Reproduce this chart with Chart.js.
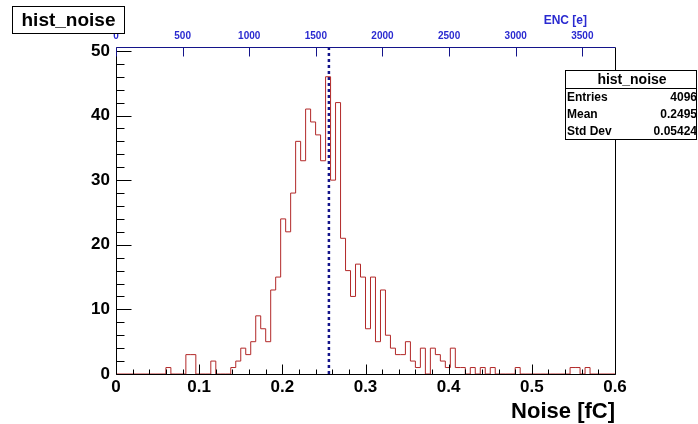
<!DOCTYPE html>
<html>
<head>
<meta charset="utf-8">
<script src="https://cdn.jsdelivr.net/npm/chart.js@4.4.1/dist/chart.umd.min.js"></script>
<style>
  html, body { margin: 0; padding: 0; background: #ffffff; }
  #c { display: block; }
</style>
</head>
<body>
<canvas id="c" width="698" height="424"></canvas>
<script>
// ---------------- data ----------------
const histName = 'hist_noise';
const BIN_LOW = 0.0;
const BIN_WIDTH = 0.006;               // 100 bins from 0 to 0.6 fC
const binCounts = [
  0, 0, 0, 0, 0, 0, 0, 0, 0, 0,        // 0.000 - 0.060
  1, 0, 0, 0, 3, 3, 0, 0, 0, 2,        // 0.060 - 0.120
  0, 0, 0, 1, 2, 4, 3, 5, 9, 7,        // 0.120 - 0.180
  5, 13, 15, 24, 22, 28, 36, 33, 41, 39, // 0.180 - 0.240
  37, 33, 46, 30, 42, 21, 16, 12, 17, 15, // 0.240 - 0.300
  7, 15, 5, 13, 6, 4, 3, 3, 5, 2,      // 0.300 - 0.360
  1, 4, 0, 4, 3, 2, 1, 4, 1, 1,        // 0.360 - 0.420
  0, 1, 0, 1, 0, 1, 0, 0, 0, 0,        // 0.420 - 0.480
  1, 0, 0, 0, 0, 0, 0, 0, 0, 0,        // 0.480 - 0.540
  0, 1, 1, 0, 1, 0, 0, 0, 0, 0         // 0.540 - 0.600
];
const markerValue = 0.256;             // dashed vertical line (fC)

const xTickValues = [0, 0.1, 0.2, 0.3, 0.4, 0.5, 0.6];
const xTickLabels = ['0', '0.1', '0.2', '0.3', '0.4', '0.5', '0.6'];
const yTickValues = [0, 10, 20, 30, 40, 50];
const yTickLabels = ['0', '10', '20', '30', '40', '50'];
const encTickValues = [0, 500, 1000, 1500, 2000, 2500, 3000, 3500];
const encTickLabels = ['0', '500', '1000', '1500', '2000', '2500', '3000', '3500'];
const ENC_PER_FC = 6241.5;

const statLabels = ['Entries', 'Mean', 'Std Dev'];
const statValues = ['4096', '0.2495', '0.05424'];

const xAxisTitle = 'Noise [fC]';
const topAxisTitle = 'ENC [e]';

// ---------------- build datasets ----------------
const histPoints = binCounts.map((c, i) => ({ x: BIN_LOW + i * BIN_WIDTH, y: c }));
histPoints.push({ x: BIN_LOW + binCounts.length * BIN_WIDTH, y: 0 });
const X_MAX = 0.6;
const Y_MAX = 50.6;
const markerPoints = [{ x: markerValue, y: 0 }, { x: markerValue, y: Y_MAX }];

const FONT = '"Liberation Sans", Arial, Helvetica, sans-serif';
const BLUE = '#2a2ad0';
const NAVY = '#14148a';

function fixedTicks(values) {
  return function (scale) { scale.ticks = values.map(v => ({ value: v })); };
}

const rootDecor = {
  id: 'rootDecor',
  afterDatasetsDraw(chart) {
    const ctx = chart.ctx;
    const xs = chart.scales.x, ys = chart.scales.y, xe = chart.scales.x2;
    const { left, right, top, bottom } = chart.chartArea;
    const L = Math.round(left) + 0.5, R = Math.round(right) + 0.5;
    const T = Math.round(top) + 0.5, B = Math.round(bottom) + 0.5;
    ctx.save();
    ctx.lineWidth = 1;
    ctx.strokeStyle = '#000';
    // frame (bottom, left, right)
    ctx.beginPath();
    ctx.moveTo(L, T); ctx.lineTo(L, B); ctx.lineTo(R, B); ctx.lineTo(R, T);
    ctx.stroke();
    // bottom ticks: major 0.1, minor 0.02
    ctx.beginPath();
    for (let k = 0; k <= 30; k++) {
      const v = k * 0.02;
      const px = Math.round(xs.getPixelForValue(v)) + 0.5;
      const len = (k % 5 === 0) ? 10 : 5;
      ctx.moveTo(px, B); ctx.lineTo(px, B - len);
    }
    // left ticks: major 10, minor 2
    for (let k = 0; k <= 25; k++) {
      const v = k * 2;
      const py = Math.round(ys.getPixelForValue(v)) + 0.5;
      const len = (k % 5 === 0) ? 15 : 8;
      ctx.moveTo(L, py); ctx.lineTo(L + len, py);
    }
    ctx.stroke();
    // top axis line and ticks
    ctx.strokeStyle = NAVY;
    ctx.beginPath();
    ctx.moveTo(L, T); ctx.lineTo(R, T);
    encTickValues.forEach(v => {
      const px = Math.round(xe.getPixelForValue(v)) + 0.5;
      ctx.moveTo(px, T); ctx.lineTo(px, T + 9);
    });
    ctx.stroke();

    // title box
    ctx.fillStyle = '#fff';
    ctx.fillRect(12, 6, 112, 27);
    ctx.strokeStyle = '#000';
    ctx.strokeRect(12.5, 6.5, 112, 27);
    ctx.fillStyle = '#000';
    ctx.font = 'bold 19px ' + FONT;
    ctx.textAlign = 'center';
    ctx.textBaseline = 'alphabetic';
    ctx.fillText(histName, 68.5, 26);

    // stats box
    ctx.fillStyle = '#fff';
    ctx.fillRect(565, 70, 132, 70);
    ctx.strokeStyle = '#000';
    ctx.strokeRect(565.5, 70.5, 131, 69);
    ctx.beginPath();
    ctx.moveTo(565.5, 88.5); ctx.lineTo(696.5, 88.5);
    ctx.stroke();
    ctx.fillStyle = '#000';
    ctx.font = 'bold 14px ' + FONT;
    ctx.textAlign = 'center';
    ctx.fillText(histName, 632, 84);
    ctx.font = 'bold 12px ' + FONT;
    statLabels.forEach((lab, i) => {
      const y = 101 + i * 17;
      ctx.textAlign = 'left';
      ctx.fillText(lab, 567, y);
      ctx.textAlign = 'right';
      ctx.fillText(statValues[i], 697, y);
    });

    // top axis title
    ctx.fillStyle = BLUE;
    ctx.font = 'bold 12px ' + FONT;
    ctx.textAlign = 'right';
    ctx.fillText(topAxisTitle, 587, 24);

    // bottom axis title
    ctx.fillStyle = '#000';
    ctx.font = 'bold 22px ' + FONT;
    ctx.textAlign = 'right';
    ctx.fillText(xAxisTitle, 615, 418);
    ctx.restore();
  }
};

new Chart(document.getElementById('c').getContext('2d'), {
  type: 'line',
  data: {
    datasets: [
      {
        data: histPoints,
        stepped: 'before',
        borderColor: 'rgb(178,40,40)',
        borderWidth: 1,
        pointRadius: 0,
        fill: false,
        tension: 0,
        xAxisID: 'x',
        yAxisID: 'y'
      },
      {
        data: markerPoints,
        borderColor: NAVY,
        borderWidth: 2.5,
        borderDash: [3, 3],
        pointRadius: 0,
        fill: false,
        xAxisID: 'x',
        yAxisID: 'y'
      }
    ]
  },
  options: {
    responsive: false,
    animation: false,
    events: [],
    layout: { padding: { left: 0, right: 83, top: 0, bottom: 0 } },
    plugins: { legend: { display: false }, tooltip: { enabled: false }, title: { display: false } },
    scales: {
      x: {
        type: 'linear', position: 'bottom', min: 0, max: X_MAX,
        afterFit: s => { s.height = 50; },
        afterBuildTicks: fixedTicks(xTickValues),
        grid: { display: false, drawTicks: false },
        border: { display: false },
        ticks: {
          autoSkip: false, maxRotation: 0, padding: 3, color: '#000',
          font: { family: FONT, size: 17, weight: 'bold' },
          callback: (v, i) => xTickLabels[i]
        }
      },
      x2: {
        type: 'linear', position: 'top', min: 0, max: X_MAX * ENC_PER_FC,
        afterFit: s => { s.height = 47; },
        afterBuildTicks: fixedTicks(encTickValues),
        grid: { display: false, drawTicks: false },
        border: { display: false },
        ticks: {
          autoSkip: false, maxRotation: 0, padding: 5, color: BLUE,
          font: { family: FONT, size: 10, weight: 'bold' },
          callback: (v, i) => encTickLabels[i]
        }
      },
      y: {
        type: 'linear', position: 'left', min: 0, max: Y_MAX,
        afterFit: s => { s.width = 116; },
        afterBuildTicks: fixedTicks(yTickValues),
        grid: { display: false, drawTicks: false },
        border: { display: false },
        ticks: {
          autoSkip: false, padding: 6, color: '#000',
          font: { family: FONT, size: 17, weight: 'bold' },
          callback: (v, i) => yTickLabels[i]
        }
      }
    }
  },
  plugins: [rootDecor]
});
</script>
</body>
</html>
